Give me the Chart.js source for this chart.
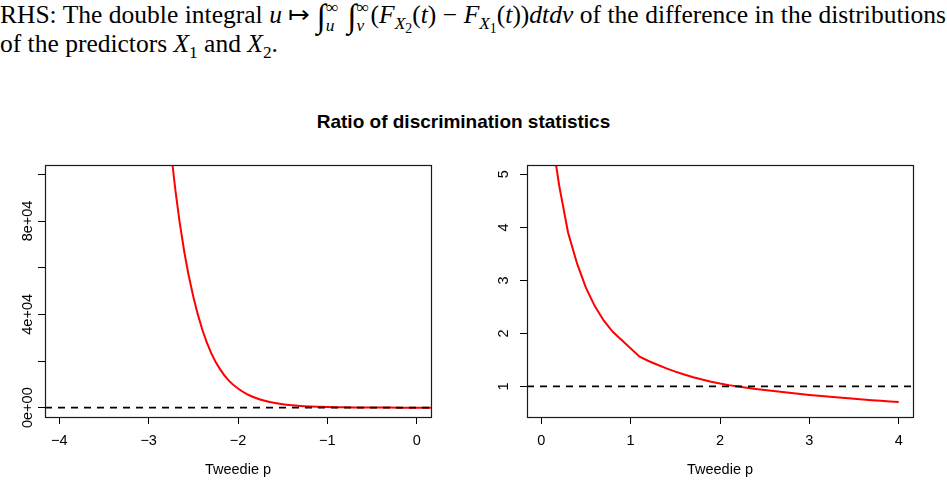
<!DOCTYPE html>
<html>
<head>
<meta charset="utf-8">
<script src="https://cdn.jsdelivr.net/npm/chart.js@4.4.0/dist/chart.umd.min.js"></script>
<style>
  body { margin: 0; background: #fff; width: 947px; height: 486px; overflow: hidden; position: relative; }
  #caption { position: absolute; left: 0; top: 1px; width: 946px; font-family: "Liberation Serif", serif; font-size: 25.5px; line-height: 27px; color: #000; }
  #caption .l1 { text-align: justify; text-align-last: justify; }
  #caption sub, #caption sup { font-size: 68%; line-height: 0; }
  #caption sub sub { font-size: 80%; }
  #caption .int { font-size: 130%; line-height: 0; vertical-align: -0.12em; }
  #caption .int + sup { vertical-align: 0.55em; }
  .lo { margin-left: -0.72em; vertical-align: -0.45em; }
  #title { position: absolute; left: 0; top: 112px; width: 927px; text-align: center; font-family: "Liberation Sans", Arial, sans-serif; font-weight: bold; font-size: 19px; line-height: 19px; color: #000; }
  canvas { position: absolute; top: 140px; }
  #leftChart { left: 0; }
  #rightChart { left: 473px; }
</style>
</head>
<body>
<div id="caption">
  <div class="l1">RHS: The double integral <i>u</i> &#8614; <span class="int">&#8747;</span><sup>&#8734;</sup><sub class="lo"><i>u</i></sub>&nbsp; <span class="int">&#8747;</span><sup>&#8734;</sup><sub class="lo"><i>v</i></sub>&nbsp;(<i>F</i><sub><i>X</i><sub>2</sub></sub>(<i>t</i>) &minus; <i>F</i><sub><i>X</i><sub>1</sub></sub>(<i>t</i>))<i>dtdv</i> of the difference in the distributions</div>
  <div>of the predictors <i>X</i><sub>1</sub> and <i>X</i><sub>2</sub>.</div>
</div>
<div id="title">Ratio of discrimination statistics</div>
<canvas id="leftChart" width="473" height="346"></canvas>
<canvas id="rightChart" width="474" height="346"></canvas>
<script>
// Left panel: ratio for negative Tweedie p
const leftP = [-3.0, -2.9, -2.8, -2.7, -2.6, -2.5, -2.4, -2.3, -2.2, -2.1, -2.0, -1.9, -1.8, -1.7, -1.6, -1.5, -1.4,
  -1.3, -1.2, -1.1, -1.0, -0.9, -0.8, -0.7, -0.6, -0.5, -0.4, -0.3, -0.2, -0.1, 0.0, 0.1, 0.2];
const leftRatio = [262000, 185000, 131000, 93000, 66500, 47500, 33500, 23400, 16400, 11500, 8200, 5800, 4150, 2950,
  2100, 1480, 1050, 740, 520, 370, 260, 185, 130, 92, 65, 46, 33, 23, 16, 11, 8, 6, 4];
const leftXTicks = [-4, -3, -2, -1, 0];
const leftYTicks = [0, 20000, 40000, 60000, 80000, 100000];
const leftYLabelValues = [0, 40000, 80000];
const leftYLabelText = ["0e+00", "4e+04", "8e+04"];
const leftRef = 0;

// Right panel: ratio for positive Tweedie p
const rightP = [0.1, 0.2, 0.3, 0.4, 0.5, 0.6, 0.7, 0.8, 1.1, 1.2, 1.3, 1.4, 1.5, 1.6, 1.7, 1.8, 1.9, 2.0,
  2.1, 2.2, 2.3, 2.4, 2.5, 2.6, 2.7, 2.8, 2.9, 3.0, 3.1, 3.2, 3.3, 3.4, 3.5, 3.6, 3.7, 3.8, 3.9, 4.0];
const rightRatio = [5.9, 4.79, 3.9, 3.32, 2.86, 2.51, 2.24, 2.03, 1.56, 1.48, 1.41, 1.34, 1.28, 1.225, 1.175, 1.13,
  1.09, 1.055, 1.025, 1.0, 0.976, 0.954, 0.933, 0.913, 0.894, 0.876, 0.858, 0.84, 0.825, 0.81, 0.796, 0.782,
  0.768, 0.755, 0.742, 0.73, 0.718, 0.706];
const rightXTicks = [0, 1, 2, 3, 4];
const rightYTicks = [1, 2, 3, 4, 5];
const rightYLabelValues = [1, 2, 3, 4, 5];
const rightYLabelText = ["1", "2", "3", "4", "5"];
const rightRef = 1;

const FONT = '"Liberation Sans", Arial, sans-serif';

// box around plot + rotated y labels, R style
const rFrame = {
  id: "rFrame",
  afterDraw(chart, args, opts) {
    const { ctx, chartArea: a } = chart;
    const y = chart.scales.y;
    ctx.save();
    ctx.strokeStyle = "#1a1a1a";
    ctx.lineWidth = 1.2;
    ctx.strokeRect(Math.round(a.left) + 0.5, Math.round(a.top) + 0.5,
      Math.round(a.right - a.left), Math.round(a.bottom - a.top));
    ctx.fillStyle = "#000";
    ctx.font = "14.5px " + FONT;
    ctx.textAlign = "center";
    ctx.textBaseline = "alphabetic";
    opts.values.forEach((v, i) => {
      ctx.save();
      ctx.translate(a.left - opts.offset, y.getPixelForValue(v));
      ctx.rotate(-Math.PI / 2);
      ctx.fillText(opts.text[i], 0, 0);
      ctx.restore();
    });
    ctx.restore();
  }
};

function makePanel(id, p, ratio, ref, xMin, xMax, yMin, yMax, xTicks, yTicks, labVals, labText, yWidth, padRight, labOffset, smooth) {
  const curve = p.map((v, i) => ({ x: v, y: ratio[i] }));
  return new Chart(document.getElementById(id), {
    type: "line",
    data: {
      datasets: [
        {
          data: [{ x: xMin, y: ref }, { x: xMax, y: ref }],
          borderColor: "#000",
          borderWidth: 1.8,
          borderDash: [7, 6],
          pointRadius: 0
        },
        {
          data: curve,
          borderColor: "#ff0000",
          borderWidth: 2,
          pointRadius: 0,
          cubicInterpolationMode: smooth ? "monotone" : "default",
          tension: 0
        }
      ]
    },
    options: {
      responsive: false,
      animation: false,
      devicePixelRatio: 1,
      layout: { padding: { top: 25, right: padRight, left: 0, bottom: 0 } },
      plugins: {
        legend: { display: false },
        tooltip: { enabled: false },
        rFrame: { values: labVals, text: labText, offset: labOffset }
      },
      scales: {
        x: {
          type: "linear",
          min: xMin,
          max: xMax,
          afterBuildTicks: (s) => { s.ticks = xTicks.map((v) => ({ value: v })); },
          afterFit: (s) => { s.height = 69; },
          grid: { drawOnChartArea: false, drawTicks: true, tickLength: 7, color: "#000", lineWidth: 1 },
          border: { display: false },
          ticks: {
            color: "#000",
            font: { family: FONT, size: 14.5 },
            padding: 8,
            maxRotation: 0,
            callback: (v) => (v < 0 ? "\u2212" + Math.abs(v) : String(v))
          },
          title: {
            display: true,
            text: "Tweedie p",
            color: "#000",
            font: { family: FONT, size: 14.5 },
            padding: { top: 0, bottom: 7 }
          }
        },
        y: {
          type: "linear",
          min: yMin,
          max: yMax,
          afterBuildTicks: (s) => { s.ticks = yTicks.map((v) => ({ value: v })); },
          afterFit: (s) => { s.width = yWidth; },
          grid: { drawOnChartArea: false, drawTicks: true, tickLength: 7, color: "#000", lineWidth: 1 },
          border: { display: false },
          ticks: { display: false }
        }
      }
    },
    plugins: [rFrame]
  });
}

makePanel("leftChart", leftP, leftRatio, leftRef, -4.16, 0.16, -4000, 104000,
  leftXTicks, leftYTicks, leftYLabelValues, leftYLabelText, 45, 42, 13, true);
makePanel("rightChart", rightP, rightRatio, rightRef, -0.16, 4.16, 0.424, 5.176,
  rightXTicks, rightYTicks, rightYLabelValues, rightYLabelText, 54, 34, 19, false);
</script>
</body>
</html>
